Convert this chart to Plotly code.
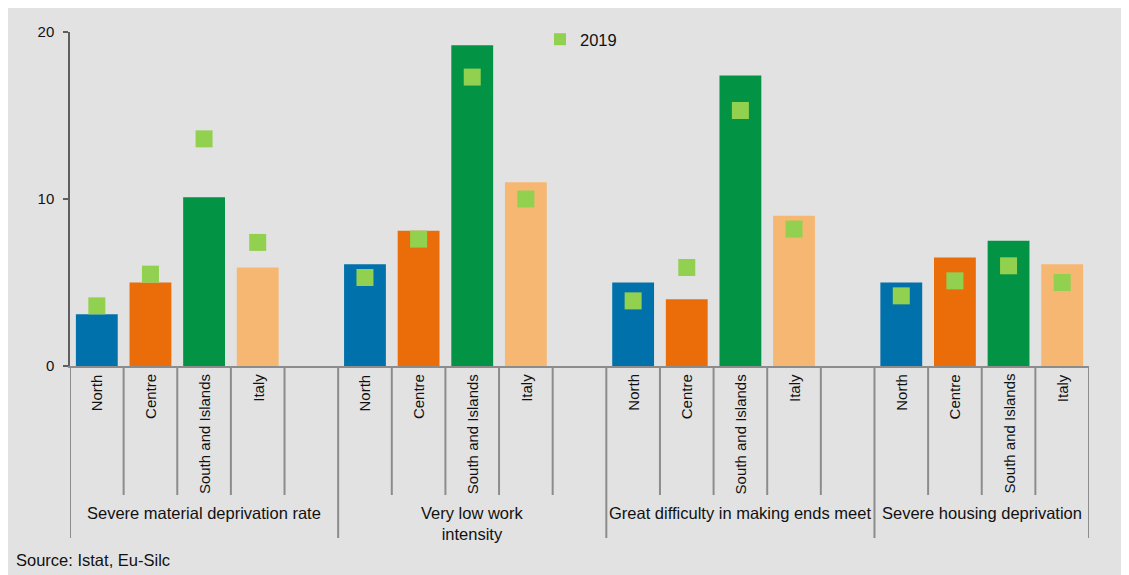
import plotly.graph_objects as go

# ---- data ----
groups = ["Severe material deprivation rate", "Very low work<br>intensity",
          "Great difficulty in making ends meet", "Severe housing deprivation"]
regions = ["North", "Centre", "South and Islands", "Italy"]
values_2020 = [
    [3.1, 5.0, 10.1, 5.9],
    [6.1, 8.1, 19.2, 11.0],
    [5.0, 4.0, 17.4, 9.0],
    [5.0, 6.5, 7.5, 6.1],
]
values_2019 = [
    [3.6, 5.5, 13.6, 7.4],
    [5.3, 7.6, 17.3, 10.0],
    [3.9, 5.9, 15.3, 8.2],
    [4.2, 5.1, 6.0, 5.0],
]
legend_label = "2019"
y_ticks = [0, 10, 20]
source_text = "Source: Istat, Eu-Silc"

region_colors = ["#0071AA", "#EA6D0A", "#029344", "#F6B772"]
marker_color = "#92D050"
bg = "#E2E2E2"
font_family = "Liberation Sans, Arial, sans-serif"

# ---- build category layout (4 regions + a gap slot, except last group) ----
cats, bar_y, bar_c, pt_x, pt_y, labels = [], [], [], [], [], []
group_bounds = [-0.5]
for gi, g in enumerate(groups):
    for ri, r in enumerate(regions):
        key = f"{gi}_{r}"
        cats.append(key)
        bar_y.append(values_2020[gi][ri])
        bar_c.append(region_colors[ri])
        pt_x.append(key)
        pt_y.append(values_2019[gi][ri])
        labels.append(r)
    if gi < len(groups) - 1:
        cats.append(f"{gi}_gap")
        bar_y.append(None)
        bar_c.append(region_colors[0])
        labels.append("")
    group_bounds.append(len(cats) - 0.5)

fig = go.Figure()
fig.add_trace(go.Bar(x=cats, y=bar_y, marker=dict(color=bar_c, line=dict(width=0)),
                     showlegend=False, hoverinfo="x+y"))
fig.add_trace(go.Scatter(x=pt_x, y=pt_y, mode="markers", name=legend_label,
                         marker=dict(symbol="square", size=17, color=marker_color,
                                     line=dict(width=0))))

W, H = 1129, 575
L, R, T, B = 62, 48, 24, 217
ph = H - T - B
pw = W - L - R
OFF = 8  # page offset of the figure

def py(pix):  # page pixel from top -> paper y
    return (H - B - (pix - OFF)) / ph

def px(pix):
    return (pix - OFF - L) / pw

shapes = []
n = len(cats)
for i in range(n + 1):
    b = i - 0.5
    is_group = any(abs(b - gb) < 1e-9 for gb in group_bounds)
    shapes.append(dict(type="line", xref="x", yref="paper", x0=b, x1=b,
                       y0=0, y1=py(538 if is_group else 495),
                       line=dict(color="#8C8C8C", width=2)))

annotations = []
for i, lab in enumerate(labels):
    if lab:
        annotations.append(dict(x=i, y=py(372), xref="x", yref="paper", text=lab,
                                textangle=-90, showarrow=False, xanchor="center",
                                yanchor="top", font=dict(size=15, color="#111")))
for gi, g in enumerate(groups):
    c = (group_bounds[gi] + group_bounds[gi + 1]) / 2
    annotations.append(dict(x=c, y=py(502), xref="x", yref="paper", text=g,
                            showarrow=False, xanchor="center", yanchor="top",
                            font=dict(size=16.5, color="#111")))
annotations.append(dict(x=px(14), y=py(560), xref="paper", yref="paper",
                        text=source_text, showarrow=False, xanchor="left",
                        yanchor="middle", font=dict(size=16.5, color="#111")))

fig.update_layout(
    width=W, height=H,
    margin=dict(l=L, r=R, t=T, b=B, pad=0),
    paper_bgcolor=bg, plot_bgcolor=bg,
    font=dict(family=font_family, size=15, color="#111"),
    bargap=0.22,
    shapes=shapes, annotations=annotations,
    legend=dict(x=px(552), y=py(22), xanchor="left", yanchor="top",
                bgcolor="rgba(0,0,0,0)", font=dict(size=16.5),
                itemsizing="constant", indentation=-12),
    showlegend=True,
)
fig.update_xaxes(type="category", categoryorder="array", categoryarray=cats,
                 range=[-0.5, n - 0.5], showticklabels=False, ticks="",
                 showline=True, linecolor="#8C8C8C", linewidth=2,
                 showgrid=False, zeroline=False, fixedrange=True)
fig.update_yaxes(range=[0, 20], tickvals=y_ticks, showline=True, linecolor="#5E5E5E",
                 linewidth=1.5, ticks="outside", ticklen=5, tickcolor="#5E5E5E",
                 tickwidth=1.5, showgrid=False, zeroline=False,
                 ticklabelstandoff=6, tickfont=dict(size=15))

fig.write_html("out.html")
